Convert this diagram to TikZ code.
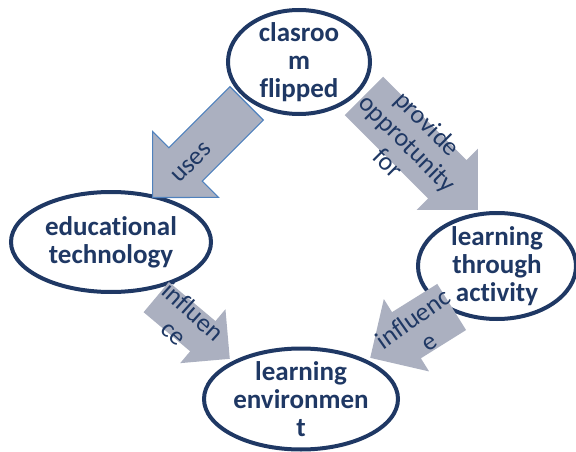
\documentclass[tikz,border=0pt]{standalone}
\usepackage{fontspec}
\setmainfont{Carlito}[Ligatures=CommonOff]
\usetikzlibrary{shapes.geometric,shapes.arrows}
\definecolor{navy}{RGB}{31,56,100}
\definecolor{arrowgray}{RGB}{171,176,192}
\definecolor{edgeblue}{RGB}{79,129,189}

\begin{document}
\begin{tikzpicture}[
    x=1pt, y=-1pt,
    topic/.style={ellipse, draw=navy, line width=4pt, fill=white, text=navy,
        font=\bfseries\fontsize{27}{28}\selectfont, align=center, inner sep=-8pt},
    blockarrow/.style={single arrow, fill=arrowgray, inner xsep=0pt,
        single arrow tip angle=90, anchor=tip},
    arrowtext/.style={text=navy, font=\fontsize{26}{28}\selectfont, align=center, inner sep=0pt}
]
\useasboundingbox (0,0) rectangle (576,452);

% topics
\node[topic, minimum width=142, minimum height=104] (flipped) at (299,62) {clasroo\\m\\flipped};
\node[topic, minimum width=200, minimum height=100] (edtech) at (111,242) {educational\\technology};
\node[topic, minimum width=158, minimum height=106] (activity) at (497,266) {learning\\through\\activity};
\node[topic, minimum width=194, minimum height=101] (environment) at (301,399) {learning\\environmen\\t};

% block arrows
\node[blockarrow, rotate=225, draw=edgeblue, line width=1.2pt, inner ysep=23pt,
    single arrow head extend=23pt, minimum height=133] (uses) at (152,198) {};
\node[blockarrow, rotate=-45, inner ysep=27pt,
    single arrow head extend=16pt, minimum height=161] (provide) at (478,210) {};
\node[blockarrow, rotate=-40, inner ysep=19.5pt,
    single arrow head extend=15.5pt, minimum height=96] (influenceL) at (230,359) {};
\node[blockarrow, rotate=212, inner ysep=27pt,
    single arrow head extend=15.5pt, minimum height=96] (influenceR) at (370,358) {};

% arrow texts
\node[arrowtext, rotate=45] (uses-text) at (192,163) {uses};
\node[arrowtext, rotate=-45] (provide-text) at (408,143) {provide\\opprotunity\\for};
\node[arrowtext, rotate=-42] (influenceL-text) at (184,322) {influen\\ce};
\node[arrowtext, rotate=35] (influenceR-text) at (421,330) {influenc\\e};
\end{tikzpicture}
\end{document}
